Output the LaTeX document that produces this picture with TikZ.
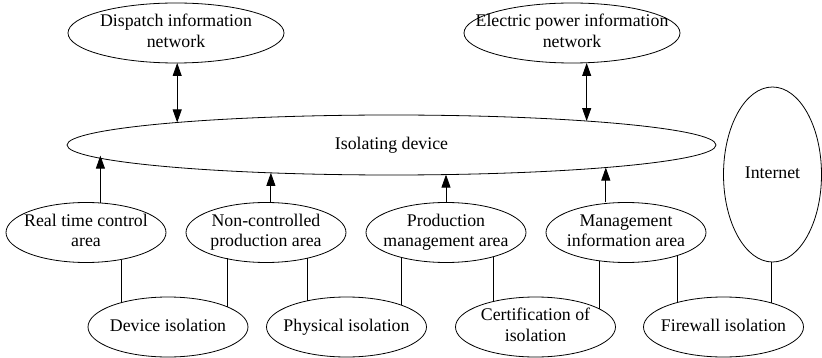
\documentclass[tikz,border=0pt]{standalone}
\usepackage{fontspec}
\setmainfont{Liberation Serif}
\usetikzlibrary{arrows.meta,shapes.geometric}
\newcommand\ctext[1]{\makebox[0pt]{\begin{tabular}{@{}c@{}}#1\end{tabular}}}
\begin{document}
\begin{tikzpicture}[x=1pt,y=-1pt,
  ell/.style={draw,ellipse,inner sep=0pt,outer sep=0pt,line width=0.8pt,minimum width=160pt,minimum height=60pt},
  conn/.style={line width=0.8pt},
  arr/.style={line width=0.8pt,-{Triangle[length=13pt,width=9pt]}},
  darr/.style={line width=0.8pt,{Triangle[length=13pt,width=9pt]}-{Triangle[length=13pt,width=9pt]}},
  font=\fontsize{17.8}{20.5}\selectfont]
\useasboundingbox (0,0) rectangle (822,358);

\node[ell,minimum width=216pt] (disp) at (176,33) {\ctext{Dispatch information\\network}};
\node[ell,minimum width=216pt] (elec) at (572,33) {\ctext{Electric power information\\network}};
\node[ell,minimum width=649pt] (iso) at (391.5,145) {\ctext{Isolating device}};
\node[ell,minimum width=98pt,minimum height=175pt] (int) at (772.5,174.5) {\ctext{Internet}};

\node[ell] (rt) at (86,232.5) {\ctext{Real time control\\area}};
\node[ell] (nc) at (266,232.5) {\ctext{Non-controlled\\production area}};
\node[ell] (pm) at (446,232.5) {\ctext{Production\\management area}};
\node[ell] (mi) at (626,232.5) {\ctext{Management\\information area}};

\node[ell] (dev) at (168,327) {\ctext{Device isolation}};
\node[ell] (phy) at (346.5,327) {\ctext{Physical isolation}};
\node[ell] (cert) at (535.5,327) {\ctext{Certification of\\isolation}};
\node[ell] (fw) at (723.5,327) {\ctext{Firewall isolation}};

\draw[darr] (disp.south -| iso.174.2) -- (iso.174.2);
\draw[darr] (elec.south -| iso.7.2) -- (iso.7.2);
\draw[arr] (rt.64.6) -- (rt.64.6 |- iso.182.6);
\draw[arr] (iso.193.3 |- nc.north) -- (iso.193.3);
\draw[arr] (pm.north) -- (pm.north |- iso.331.7);
\draw[arr] (iso.354.8 |- mi.north) -- (iso.354.8);

\draw[conn] (dev.152.7) -- (dev.152.7 |- rt.322.4);
\draw[conn] (dev.19.0) -- (dev.19.0 |- nc.213.9);
\draw[conn] (phy.146.1) -- (phy.146.1 |- nc.327.8);
\draw[conn] (phy.22.3) -- (phy.22.3 |- pm.208.0);
\draw[conn] (cert.149.5) -- (cert.149.5 |- pm.332.7);
\draw[conn] (cert.16.4) -- (cert.16.4 |- mi.226.2);
\draw[conn] (fw.152.7) -- (fw.152.7 |- mi.335.6);
\draw[conn] (fw.27.3) -- (fw.27.3 |- int.south);
\end{tikzpicture}
\end{document}
